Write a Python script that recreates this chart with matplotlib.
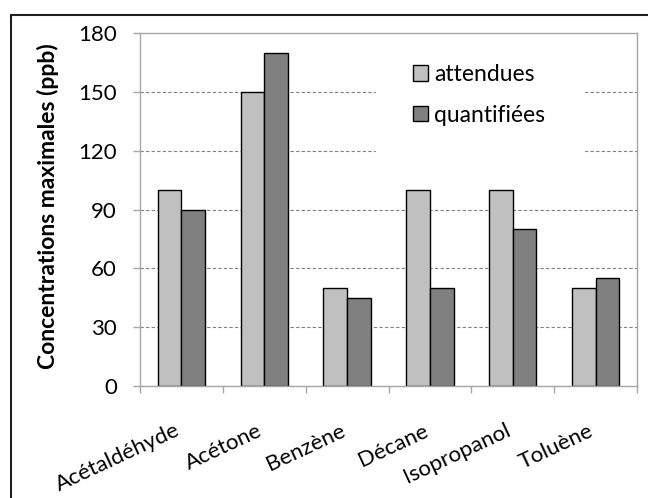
import matplotlib.pyplot as plt
import matplotlib.transforms as mtransforms
import numpy as np

categories = ["Acétaldéhyde", "Acétone", "Benzène", "Décane", "Isopropanol", "Toluène"]
attendues = [100, 150, 50, 100, 100, 50]
quantifiees = [90, 170, 45, 50, 80, 55]
series_names = ["attendues", "quantifiées"]
yticks = [0, 30, 60, 90, 120, 150, 180]

plt.rcParams['font.family'] = ['Lato', 'DejaVu Sans']

W, H = 648, 498
fig = plt.figure(figsize=(W/100, H/100), dpi=100)
ax = fig.add_axes([140/W, 1-386/H, 497/W, 353/H])

x = np.arange(len(categories))
w = 0.285
ax.bar(x - w/2, attendues, w, color="#C0C0C0", edgecolor="black", linewidth=1,
       label=series_names[0], zorder=3)
ax.bar(x + w/2, quantifiees, w, color="#808080", edgecolor="black", linewidth=1,
       label=series_names[1], zorder=3)

ax.set_xlim(-0.5, len(categories) - 0.5)
ax.set_ylim(0, 180)
ax.set_yticks(yticks)
ax.yaxis.grid(True, color="#808080", linestyle=(0, (3, 2)), linewidth=0.8)
ax.set_axisbelow(True)
for s in ax.spines.values():
    s.set_color("#A6A6A6")
    s.set_linewidth(1)
    s.set_zorder(6)
ax.tick_params(axis="y", length=5, width=1, color="#A6A6A6", labelsize=16, pad=11.5)

ax.set_xticks(np.arange(len(categories) + 1) - 0.5, minor=True)
ax.set_xticks(x)
ax.set_xticklabels(categories, rotation=25, ha="right", va="center_baseline",
                   rotation_mode="anchor", fontsize=16)
ax.tick_params(axis="x", which="major", length=0, pad=30)
ax.tick_params(axis="x", which="minor", length=5, width=1, color="#A6A6A6")
shift = mtransforms.ScaledTranslation(-4/100, 0, fig.dpi_scale_trans)
for lab in ax.get_xticklabels():
    lab.set_transform(lab.get_transform() + shift)

fig.text(48/W, 1-206/H, "Concentrations maximales (ppb)", rotation=90,
         ha="center", va="center", fontsize=16.5, fontweight="bold")

leg = ax.legend(loc="upper left", bbox_to_anchor=(376/W, 1-27.5/H),
                bbox_transform=fig.transFigure, borderaxespad=0,
                frameon=True, fontsize=16.5, handlelength=0.65, handleheight=0.65,
                handletextpad=0.3, labelspacing=0.86, borderpad=1.6, fancybox=False)
leg.get_frame().set_edgecolor("white")
leg.get_frame().set_facecolor("white")
leg.get_frame().set_alpha(1)
leg.set_zorder(5)

# cadre extérieur
fig.patches.append(plt.Rectangle((11/W, -0.01), 1, 1 - 15/H + 0.01, transform=fig.transFigure,
                                 fill=False, edgecolor="#202020", linewidth=1.5))

fig.savefig("out.png", dpi=100)
